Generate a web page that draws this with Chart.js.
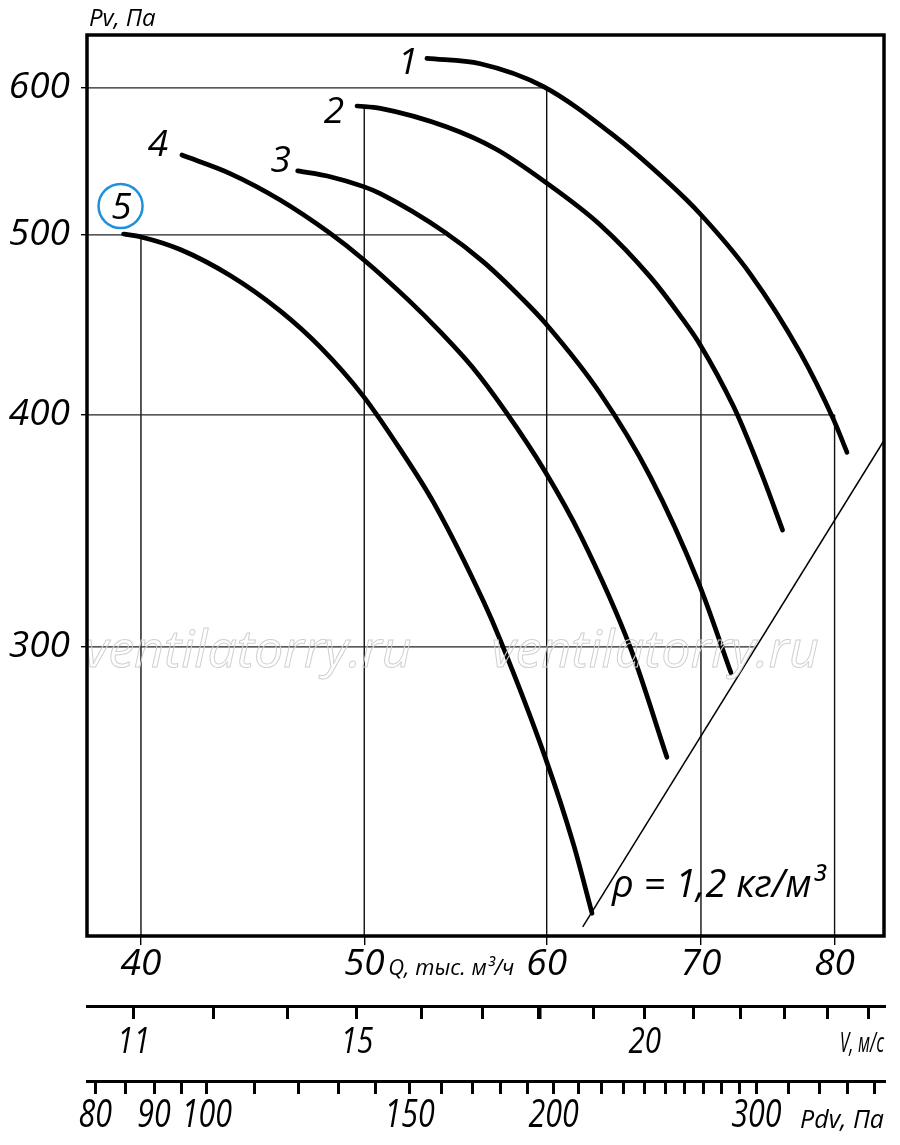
<!DOCTYPE html>
<html lang="ru">
<head>
<meta charset="utf-8">
<title>Аэродинамическая характеристика вентилятора</title>
<script src="https://cdn.jsdelivr.net/npm/chart.js@4.4.1/dist/chart.umd.min.js"></script>
<style>
  html, body { margin: 0; padding: 0; background: #fff; }
  #wrap { position: relative; width: 900px; height: 1145px; }
</style>
</head>
<body>
<div id="wrap"><canvas id="fanChart"></canvas></div>
<script>
// =========================
// Data
// Q in тыс. м3/ч, Pv in Па
// =========================
const curveNames = ['1', '2', '3', '4', '5'];

const q1  = [53.23, 56.15, 59.81, 64.15, 67.66, 69.95, 73.54, 77.31, 79.92, 81.00];
const pv1 = [622.3, 618.2, 600.9, 565.6, 534.3, 513.1, 476.3, 431.9, 397.6, 381.8];

const q2  = [49.64, 50.81, 54.31, 57.05, 59.92, 63.30, 66.54, 68.57, 69.95, 72.32, 73.30, 74.52, 75.95];
const pv2 = [586.6, 584.9, 571.5, 556.0, 533.8, 506.2, 474.6, 452.2, 436.2, 404.1, 389.0, 369.5, 346.7];

const q3  = [46.78, 48.33, 49.97, 50.81, 54.22, 56.32, 58.54, 59.92, 63.30, 66.54, 69.84, 72.13];
const pv3 = [541.3, 537.4, 530.8, 526.2, 501.4, 483.5, 462.0, 448.1, 410.7, 370.5, 324.7, 290.5];

const q4  = [41.67, 43.73, 45.97, 48.33, 49.97, 52.26, 53.95, 55.70, 57.57, 59.92, 62.05, 65.23, 67.66];
const pv4 = [552.0, 539.5, 522.1, 500.9, 484.8, 461.1, 443.3, 424.4, 401.8, 372.6, 344.6, 299.7, 261.6];

const q5  = [39.31, 40.00, 41.60, 43.73, 45.97, 47.85, 49.94, 51.83, 53.59, 56.33, 57.28, 59.92, 61.63, 62.78];
const pv5 = [500.5, 498.7, 491.0, 475.4, 455.0, 435.0, 409.5, 383.2, 358.7, 317.3, 302.5, 261.4, 234.8, 215.6];

// the thin rho = 1,2 line (straight in log-log)
const rhoQ  = [62.2, 84.0];
const rhoPv = [212, 387];

// axis ranges and ticks
const qMin = 37.9, qMax = 84.05;
const pvMin = 209.6, pvMax = 640.6;
const qTicks = [40, 50, 60, 70, 80];
const pvTicks = [300, 400, 500, 600];

// partial grid lines, as drawn in the reference
const hGridPv   = [600, 500, 400, 300];
const hGridEndQ = [60, 54.2, 80, 73.9];
const vGridQ     = [40, 50, 60, 70, 80];
const vGridTopPv = [499, 587, 600, 513, 400];

// secondary scales: V = kV * Q, Pdv = rho/2 * V^2
const kV = 0.3022;
const rho = 1.2;
const vTicks = [12, 13, 14, 15, 16, 17, 18, 19, 20, 21, 22, 23, 24, 25];
const vLabelTicks = [12, 15, 20];
const vLabelTexts = ['11', '15', '20'];   // the picture labels the first tick "11"
const pdvTicks = [80, 85, 90, 95, 100, 110, 120, 130, 140, 150, 160, 170, 180, 190,
                  200, 210, 220, 230, 240, 250, 260, 270, 280, 290, 300, 320, 340, 360, 380];
const pdvLabelTicks = [80, 90, 100, 150, 200, 300];

document.addEventListener("DOMContentLoaded", () => {

  const mainFont = "'Open Sans', 'DejaVu Sans', sans-serif";
  const italic = size => ({ family: mainFont, size, style: 'italic', lineHeight: 1 });
  const toPoints = (qs, ps) => qs.map((q, i) => ({ x: q, y: ps[i] }));
  const setTicks = list => scale => { scale.ticks = list.map(v => ({ value: v })); };

  const curves = [[q1, pv1], [q2, pv2], [q3, pv3], [q4, pv4], [q5, pv5]];
  // offsets of the curve numbers from the first point of each curve (px)
  const labelOffsets = [[-19, 3], [-23, 4], [-17, -12], [-24, -12], [-2, -28]];

  const datasets = [];
  curves.forEach((c, i) => {
    datasets.push({
      label: curveNames[i],
      data: toPoints(c[0], c[1]),
      borderColor: '#000',
      borderWidth: 4.7,
      borderCapStyle: 'round',
      borderJoinStyle: 'round',
      cubicInterpolationMode: 'monotone',
      pointRadius: 0,
      order: 0
    });
  });

  datasets.push({
    label: 'rho',
    data: toPoints(rhoQ, rhoPv),
    borderColor: '#000',
    borderWidth: 1.5,
    pointRadius: 0,
    order: 1
  });

  hGridPv.forEach((pv, i) => {
    datasets.push({
      data: [{ x: qMin, y: pv }, { x: hGridEndQ[i], y: pv }],
      borderColor: '#222',
      borderWidth: 1.3,
      pointRadius: 0,
      order: 2
    });
  });
  vGridQ.forEach((q, i) => {
    datasets.push({
      data: [{ x: q, y: vGridTopPv[i] }, { x: q, y: pvMin }],
      borderColor: '#111',
      borderWidth: 1.4,
      pointRadius: 0,
      order: 2
    });
  });

  // condensed italic text (no narrow font installed, so squeeze horizontally)
  function squeezed(ctx, text, x, y, size, sx, align) {
    ctx.save();
    ctx.translate(x, y);
    ctx.scale(sx, 1);
    ctx.font = `italic ${size}px ${mainFont}`;
    ctx.textAlign = align;
    ctx.fillText(text, 0, 0);
    ctx.restore();
  }

  // frame, curve numbers, captions, lower-axis labels
  const decor = {
    id: 'decor',
    afterDatasetsDraw(chart) {
      const { ctx, chartArea: a, scales } = chart;
      const x = scales.x, y = scales.y;
      const w = a.right - a.left, h = a.bottom - a.top;
      ctx.save();

      // watermark
      ctx.font = `italic 52px ${mainFont}`;
      ctx.textAlign = 'center';
      ctx.textBaseline = 'middle';
      ctx.strokeStyle = '#d0d0d0';
      ctx.lineWidth = 1;
      ctx.strokeText('ventilatorry.ru', a.left + w * 0.202, a.top + h * 0.685);
      ctx.strokeText('ventilatorry.ru', a.left + w * 0.713, a.top + h * 0.685);

      // frame
      ctx.strokeStyle = '#000';
      ctx.lineWidth = 3.5;
      ctx.strokeRect(a.left, a.top, w, h);

      // curve numbers
      ctx.fillStyle = '#000';
      ctx.font = `italic 37px ${mainFont}`;
      ctx.textBaseline = 'alphabetic';
      curves.forEach((c, i) => {
        const cx = x.getPixelForValue(c[0][0]) + labelOffsets[i][0];
        const cy = y.getPixelForValue(c[1][0]) + labelOffsets[i][1];
        ctx.fillText(curveNames[i], cx, cy + 13);
        if (i === 4) {
          ctx.beginPath();
          ctx.arc(cx - 1, cy, 22, 0, Math.PI * 2);
          ctx.strokeStyle = '#1e90dc';
          ctx.lineWidth = 2.5;
          ctx.stroke();
        }
      });

      // density note
      ctx.textAlign = 'left';
      ctx.font = `italic 38px ${mainFont}`;
      ctx.fillText('ρ = 1,2 кг/м³', a.left + 525, a.bottom - 39);

      // axis names
      ctx.font = `italic 24px ${mainFont}`;
      ctx.fillText('Pv, Па', a.left + 2, a.top - 9);
      ctx.font = `italic 22px ${mainFont}`;
      ctx.fillText('Q, тыс. м³/ч', x.getPixelForValue(50) + 24, a.bottom + 39);
      squeezed(ctx, 'V, м/с', a.right, scales.v.top + 46, 28, 0.62, 'right');
      ctx.font = `italic 25px ${mainFont}`;
      ctx.textAlign = 'right';
      ctx.fillText('Pdv, Па', a.right, scales.pdv.top + 47);

      // lower-axis tick labels, placed through their scales
      ctx.textBaseline = 'middle';
      vLabelTicks.forEach((v, i) => {
        squeezed(ctx, vLabelTexts[i], scales.v.getPixelForValue(v), scales.v.top + 36, 37, 0.8, 'center');
      });
      pdvLabelTicks.forEach(p => {
        squeezed(ctx, String(p), scales.pdv.getPixelForValue(p), scales.pdv.top + 35, 39, 0.78, 'center');
      });

      ctx.restore();
    }
  };

  new Chart(document.getElementById("fanChart"), {
    type: 'line',
    data: { datasets },
    options: {
      responsive: true,
      maintainAspectRatio: false,
      animation: false,
      events: [],
      layout: { padding: { top: 35, right: 16, left: 0, bottom: 0 } },
      plugins: { legend: { display: false }, tooltip: { enabled: false } },
      scales: {
        x: {
          type: 'logarithmic',
          position: 'bottom',
          weight: 0,
          min: qMin,
          max: qMax,
          afterFit: s => { s.height = 70; },
          afterBuildTicks: setTicks(qTicks),
          ticks: {
            font: italic(37), color: '#000', padding: 1,
            autoSkip: false, maxRotation: 0, callback: v => String(v)
          },
          grid: { drawOnChartArea: false, tickLength: 9, color: '#000', lineWidth: 1.4 },
          border: { display: false }
        },
        v: {
          type: 'logarithmic',
          axis: 'x',
          position: 'bottom',
          weight: 1,
          min: kV * qMin,
          max: kV * qMax,
          afterFit: s => { s.height = 75; },
          afterBuildTicks: setTicks(vTicks),
          ticks: { display: false, autoSkip: false },
          grid: {
            drawOnChartArea: false, tickLength: 13, color: '#000',
            lineWidth: c => (c.tick && c.tick.value === 18 ? 4.5 : 3)
          },
          border: { display: true, color: '#000', width: 3 }
        },
        pdv: {
          type: 'logarithmic',
          axis: 'x',
          position: 'bottom',
          weight: 2,
          min: rho / 2 * Math.pow(kV * qMin, 2),
          max: rho / 2 * Math.pow(kV * qMax, 2),
          afterFit: s => { s.height = 64; },
          afterBuildTicks: setTicks(pdvTicks),
          ticks: { display: false, autoSkip: false },
          grid: { drawOnChartArea: false, tickLength: 13, color: '#000', lineWidth: 3 },
          border: { display: true, color: '#000', width: 3 }
        },
        y: {
          type: 'logarithmic',
          position: 'left',
          min: pvMin,
          max: pvMax,
          afterFit: s => { s.width = 87; },
          afterBuildTicks: setTicks(pvTicks),
          ticks: {
            font: italic(37), color: '#000', padding: 11,
            callback: v => String(v)
          },
          grid: { drawOnChartArea: false, tickLength: 6, color: '#000', lineWidth: 1.4 },
          border: { display: false }
        }
      }
    },
    plugins: [decor]
  });

});
</script>
</body>
</html>
